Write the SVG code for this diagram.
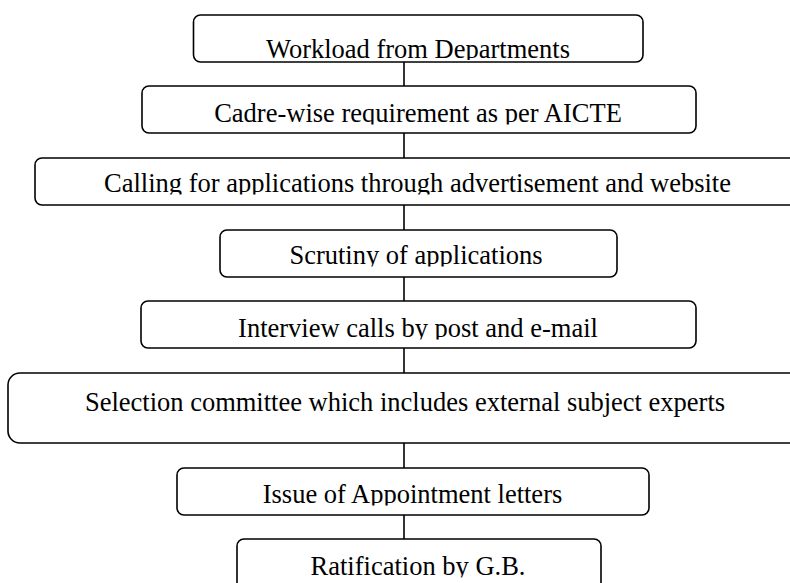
<svg xmlns="http://www.w3.org/2000/svg" width="790" height="583" viewBox="0 0 790 583">
<style>
.box{fill:#fff;stroke:#000;stroke-width:1.6}
.lbl{font-family:"Liberation Serif","Times New Roman",serif;font-size:26.5px;fill:#000;text-anchor:middle}
.con{stroke:#000;stroke-width:1.6;fill:none}
</style>
<defs>
<clipPath id="c1"><rect x="0" y="0" width="790" height="60"/></clipPath>
<clipPath id="c2"><rect x="0" y="90" width="790" height="34.5"/></clipPath>
<clipPath id="c3"><rect x="0" y="160" width="790" height="34.5"/></clipPath>
<clipPath id="c4"><rect x="0" y="232" width="790" height="34.5"/></clipPath>
<clipPath id="c5"><rect x="0" y="303" width="790" height="36.5"/></clipPath>
<clipPath id="c7"><rect x="0" y="470" width="790" height="35.5"/></clipPath>
<clipPath id="c8"><rect x="0" y="541" width="790" height="36.5"/></clipPath>
</defs>
<rect width="790" height="583" fill="#fff"/>
<g id="connectors">
<line class="con" x1="404" y1="62" x2="404" y2="86"/>
<line class="con" x1="404" y1="133" x2="404" y2="158"/>
<line class="con" x1="404" y1="205" x2="404" y2="230"/>
<line class="con" x1="404" y1="277" x2="404" y2="301"/>
<line class="con" x1="404" y1="348" x2="404" y2="373"/>
<line class="con" x1="404" y1="443" x2="404" y2="468"/>
<line class="con" x1="404" y1="515" x2="404" y2="539"/>
</g>
<g id="n1"><rect class="box" x="193.5" y="15" width="449.5" height="47" rx="7"/><text class="lbl" x="418" y="57.5" clip-path="url(#c1)">Workload from Departments</text></g>
<g id="n2"><rect class="box" x="142" y="86" width="554" height="47" rx="7"/><text class="lbl" x="418" y="122" clip-path="url(#c2)">Cadre-wise requirement as per AICTE</text></g>
<g id="n3"><rect class="box" x="35" y="158" width="770" height="47" rx="7"/><text class="lbl" x="417.5" y="192" clip-path="url(#c3)">Calling for applications through advertisement and website</text></g>
<g id="n4"><rect class="box" x="220" y="230" width="397" height="47" rx="7"/><text class="lbl" x="416" y="264" clip-path="url(#c4)">Scrutiny of applications</text></g>
<g id="n5"><rect class="box" x="141" y="301" width="555" height="47" rx="7"/><text class="lbl" x="418" y="337" clip-path="url(#c5)">Interview calls by post and e-mail</text></g>
<g id="n6"><rect class="box" x="8" y="373" width="800" height="70" rx="12"/><text class="lbl" x="405" y="411">Selection committee which includes external subject experts</text></g>
<g id="n7"><rect class="box" x="177" y="468" width="472" height="47" rx="7"/><text class="lbl" x="412.5" y="503" clip-path="url(#c7)">Issue of Appointment letters</text></g>
<g id="n8"><rect class="box" x="237" y="539" width="364" height="60" rx="7"/><text class="lbl" x="418" y="575" clip-path="url(#c8)">Ratification by G.B.</text></g>
</svg>
